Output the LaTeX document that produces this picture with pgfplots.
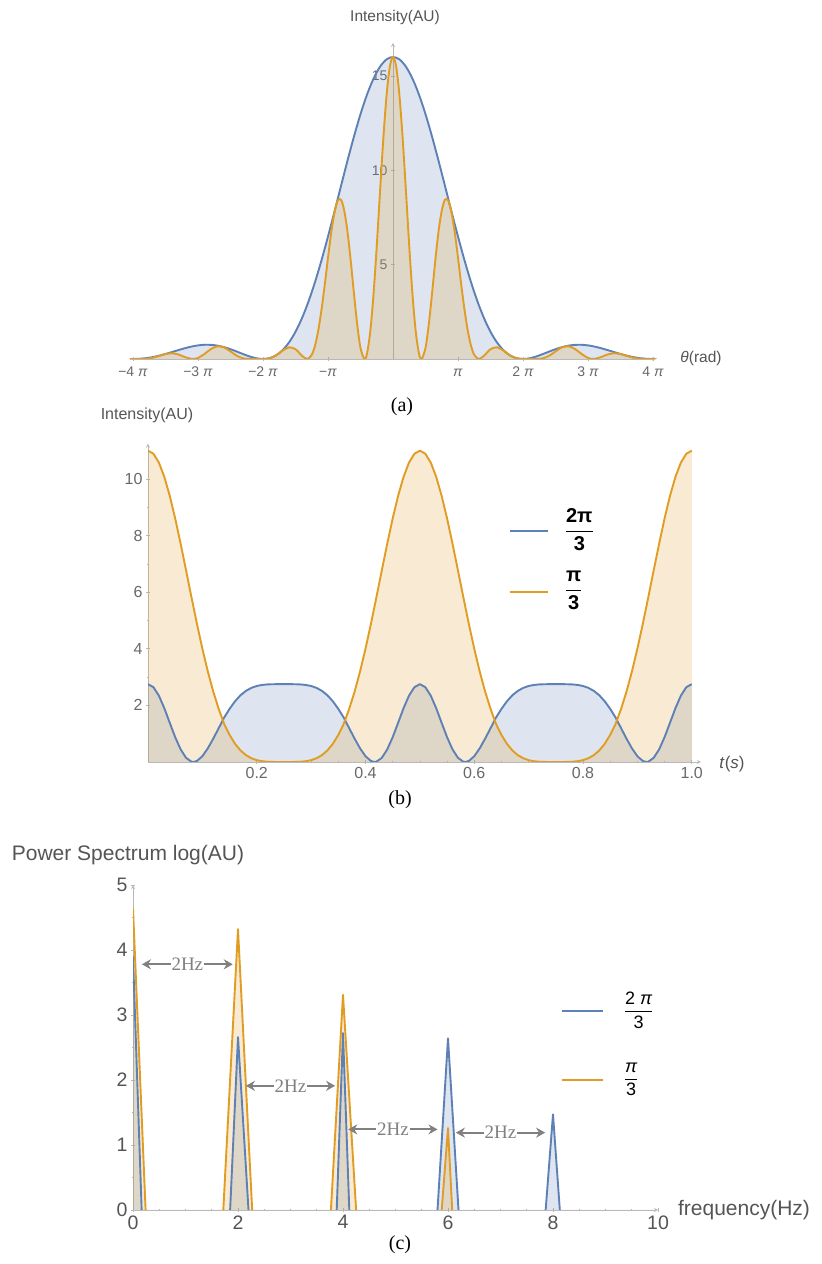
\documentclass[border=0pt]{standalone}
\usepackage{fontspec}
\setmainfont{Liberation Sans}
\newfontfamily\serif{Liberation Serif}
\usepackage{amsmath}
\usepackage{pgfplots}
\usepackage{pgfplotstable}
\pgfplotsset{compat=1.18}
\usetikzlibrary{arrows.meta}
\definecolor{mblue}{rgb}{0.368417,0.506779,0.709798}
\definecolor{morange}{rgb}{0.880722,0.611041,0.142051}
\definecolor{tickgray}{RGB}{105,105,105}
\definecolor{labgray}{RGB}{85,85,85}
\definecolor{axisgray}{RGB}{185,185,185}
\definecolor{arrgray}{RGB}{128,128,128}

\pgfplotsset{
  mstyle/.style={
    scale only axis,
    axis line style={axisgray, line width=0.8pt, -},
    tick style={axisgray, line width=0.6pt},
    tick align=inside,
    major tick length=4pt, minor tick length=2.5pt,
    ticklabel style={text=tickgray},
    /pgf/number format/assume math mode=true,
  },
  bline/.style={mblue, line width=1.9pt, line join=round},
  oline/.style={morange, line width=1.9pt, line join=round},
  bfill/.style={fill=mblue, fill opacity=0.2, draw=none},
  ofill/.style={fill=morange, fill opacity=0.2, draw=none},
}

\pgfplotstableread{
x y
-4.05 0
-4.0 0
-3.9 0.010
-3.8 0.043
-3.7 0.098
-3.6 0.173
-3.5 0.265
-3.4 0.367
-3.3 0.473
-3.2 0.573
-3.1 0.658
-3.0 0.721
-2.9 0.752
-2.8 0.748
-2.7 0.706
-2.6 0.628
-2.5 0.519
-2.4 0.389
-2.3 0.253
-2.2 0.128
-2.1 0.036
-2.0 0
-1.9 0.044
-1.8 0.191
-1.7 0.462
-1.6 0.875
-1.5 1.441
-1.4 2.165
-1.3 3.046
-1.2 4.073
-1.1 5.228
-1.0 6.485
-0.9 7.810
-0.8 9.165
-0.7 10.506
-0.6 11.789
-0.5 12.969
-0.4 14.002
-0.3 14.850
-0.2 15.480
-0.1 15.869
0 16
0.1 15.869
0.2 15.480
0.3 14.850
0.4 14.002
0.5 12.969
0.6 11.789
0.7 10.506
0.8 9.165
0.9 7.810
1.0 6.485
1.1 5.228
1.2 4.073
1.3 3.046
1.4 2.165
1.5 1.441
1.6 0.875
1.7 0.462
1.8 0.191
1.9 0.044
2.0 0
2.1 0.036
2.2 0.128
2.3 0.253
2.4 0.389
2.5 0.519
2.6 0.628
2.7 0.706
2.8 0.748
2.9 0.752
3.0 0.721
3.1 0.658
3.2 0.573
3.3 0.473
3.4 0.367
3.5 0.265
3.6 0.173
3.7 0.098
3.8 0.043
3.9 0.010
4.0 0
4.05 0
}\aB

\pgfplotstableread{
x y
-4.05 0
-4.0 0
-3.9 0.001
-3.8 0.013
-3.7 0.063
-3.6 0.159
-3.5 0.264
-3.4 0.304
-3.3 0.237
-3.2 0.099
-3.08 0
-3.0 0.057
-2.9 0.270
-2.8 0.529
-2.7 0.674
-2.6 0.615
-2.5 0.400
-2.4 0.167
-2.3 0.031
-2.2 0
-2.1 0.004
-2.0 0
-1.9 0.034
-1.8 0.187
-1.7 0.441
-1.6 0.619
-1.5 0.518
-1.4 0.172
-1.32 0
-1.25 0.219
-1.2 0.703
-1.15 1.510
-1.1 2.614
-1.05 3.935
-1.0 5.366
-0.95 6.704
-0.9 7.770
-0.85 8.389
-0.8 8.438
-0.75 7.858
-0.7 6.743
-0.65 5.198
-0.6 3.446
-0.55 1.815
-0.5 0.586
-0.44 0
-0.4 0.284
-0.35 1.446
-0.3 3.414
-0.25 5.980
-0.2 8.842
-0.15 11.617
-0.1 13.931
-0.05 15.464
0 16
0.05 15.464
0.1 13.931
0.15 11.617
0.2 8.842
0.25 5.980
0.3 3.414
0.35 1.446
0.4 0.284
0.44 0
0.5 0.586
0.55 1.815
0.6 3.446
0.65 5.198
0.7 6.743
0.75 7.858
0.8 8.438
0.85 8.389
0.9 7.770
0.95 6.704
1.0 5.366
1.05 3.935
1.1 2.614
1.15 1.510
1.2 0.703
1.25 0.219
1.32 0
1.4 0.172
1.5 0.518
1.6 0.619
1.7 0.441
1.8 0.187
1.9 0.034
2.0 0
2.1 0.004
2.2 0
2.3 0.031
2.4 0.167
2.5 0.400
2.6 0.615
2.7 0.674
2.8 0.529
2.9 0.270
3.0 0.057
3.08 0
3.2 0.099
3.3 0.237
3.4 0.304
3.5 0.264
3.6 0.159
3.7 0.063
3.8 0.013
3.9 0.001
4.0 0
4.05 0
}\aO

\pgfplotstableread{
x y
0 2.75
0.01 2.644
0.02 2.345
0.03 1.902
0.04 1.386
0.05 0.877
0.06 0.446
0.07 0.147
0.08 0.009
0.0833 0
0.09 0.035
0.10 0.204
0.11 0.482
0.12 0.825
0.13 1.194
0.14 1.568
0.15 1.876
0.16 2.143
0.17 2.356
0.18 2.511
0.19 2.618
0.20 2.685
0.21 2.723
0.22 2.741
0.23 2.748
0.24 2.75
0.25 2.75
0.26 2.75
0.27 2.748
0.28 2.741
0.29 2.723
0.30 2.685
0.31 2.618
0.32 2.511
0.33 2.356
0.34 2.143
0.35 1.876
0.36 1.568
0.37 1.194
0.38 0.825
0.39 0.482
0.40 0.204
0.41 0.035
0.4167 0
0.42 0.009
0.43 0.147
0.44 0.446
0.45 0.877
0.46 1.386
0.47 1.902
0.48 2.345
0.49 2.644
0.50 2.75
0.51 2.644
0.52 2.345
0.53 1.902
0.54 1.386
0.55 0.877
0.56 0.446
0.57 0.147
0.58 0.009
0.5833 0
0.59 0.035
0.60 0.204
0.61 0.482
0.62 0.825
0.63 1.194
0.64 1.568
0.65 1.876
0.66 2.143
0.67 2.356
0.68 2.511
0.69 2.618
0.70 2.685
0.71 2.723
0.72 2.741
0.73 2.748
0.74 2.75
0.75 2.75
0.76 2.75
0.77 2.748
0.78 2.741
0.79 2.723
0.80 2.685
0.81 2.618
0.82 2.511
0.83 2.356
0.84 2.143
0.85 1.876
0.86 1.568
0.87 1.194
0.88 0.825
0.89 0.482
0.90 0.204
0.91 0.035
0.9167 0
0.92 0.009
0.93 0.147
0.94 0.446
0.95 0.877
0.96 1.386
0.97 1.902
0.98 2.345
0.99 2.644
1.00 2.75
}\bB

\pgfplotstableread{
x y
0 11
0.01 10.893
0.02 10.579
0.03 10.074
0.04 9.405
0.05 8.605
0.06 7.714
0.07 6.771
0.08 5.815
0.09 4.882
0.10 4.002
0.11 3.199
0.12 2.487
0.13 1.876
0.14 1.347
0.15 0.957
0.16 0.645
0.17 0.410
0.18 0.244
0.19 0.134
0.20 0.065
0.21 0.027
0.22 0.009
0.23 0.002
0.24 0
0.25 0
0.26 0
0.27 0.002
0.28 0.009
0.29 0.027
0.30 0.065
0.31 0.134
0.32 0.244
0.33 0.410
0.34 0.645
0.35 0.957
0.36 1.347
0.37 1.876
0.38 2.487
0.39 3.199
0.40 4.002
0.41 4.882
0.42 5.815
0.43 6.771
0.44 7.714
0.45 8.605
0.46 9.405
0.47 10.074
0.48 10.579
0.49 10.893
0.50 11
0.51 10.893
0.52 10.579
0.53 10.074
0.54 9.405
0.55 8.605
0.56 7.714
0.57 6.771
0.58 5.815
0.59 4.882
0.60 4.002
0.61 3.199
0.62 2.487
0.63 1.876
0.64 1.347
0.65 0.957
0.66 0.645
0.67 0.410
0.68 0.244
0.69 0.134
0.70 0.065
0.71 0.027
0.72 0.009
0.73 0.002
0.74 0
0.75 0
0.76 0
0.77 0.002
0.78 0.009
0.79 0.027
0.80 0.065
0.81 0.134
0.82 0.244
0.83 0.410
0.84 0.645
0.85 0.957
0.86 1.347
0.87 1.876
0.88 2.487
0.89 3.199
0.90 4.002
0.91 4.882
0.92 5.815
0.93 6.771
0.94 7.714
0.95 8.605
0.96 9.405
0.97 10.074
0.98 10.579
0.99 10.893
1.00 11
}\bO

\pgfplotstableread{
x y
0 3.9
0.165 0
1 -1
1.85 0
2 2.66
2.2 0
3 -1
3.88 0
4 2.72
4.12 0
5 -1
5.8 0
6 2.64
6.2 0
7 -1
7.86 0
8 1.47
8.13 0
9 -1
10 -1
}\cB

\pgfplotstableread{
x y
0 4.64
0.24 0
1 -1
1.72 0
2 4.32
2.27 0
3 -1
3.77 0
4 3.31
4.25 0
5 -1
5.88 0
6 1.26
6.08 0
7 -1
10 -1
}\cO

\begin{document}
\begin{tikzpicture}[x=1pt,y=1pt]
\path[use as bounding box, fill=white] (0pt,0pt) rectangle (822pt,1264pt);

% ---------------- (a)
\begin{axis}[mstyle, at={(129.75pt,905pt)}, anchor=south west,
  width=526.5pt, height=316pt,
  xmin=-4.05, xmax=4.05, ymin=0, ymax=16.74,
  axis lines=middle,
  xtick={-4,-3,-2,-1,1,2,3,4},
  xticklabels={{−4 \textit{π}},{−3 \textit{π}},{−2 \textit{π}},{−\textit{π}},{\textit{π}},{2 \textit{π}},{3 \textit{π}},{4 \textit{π}}},
  xticklabel style={text height=10pt, text depth=2pt, yshift=-2pt},
  ytick={5,10,15},
  ticklabel style={font=\fontsize{14}{14}\selectfont},
]
\addplot[bfill, smooth, forget plot] table {\aB} \closedcycle;
\addplot[ofill, smooth, forget plot] table {\aO} \closedcycle;
\addplot[bline, smooth, forget plot] table {\aB};
\addplot[oline, smooth, forget plot] table {\aO};
\end{axis}

% ---------------- (b)
\begin{axis}[mstyle, at={(148pt,502pt)}, anchor=south west,
  width=553pt, height=318.4pt,
  xmin=0, xmax=1.017, ymin=0, ymax=11.25,
  axis lines=left,
  xtick={0.2,0.4,0.6,0.8,1.0},
  ytick={2,4,6,8,10},
  minor x tick num=3, minor y tick num=1,
  xticklabel style={/pgf/number format/.cd, fixed, fixed zerofill, precision=1},
  ticklabel style={font=\fontsize{16}{16}\selectfont},
  legend image code/.code={\draw[#1] (0pt,-8pt) -- (38pt,-8pt);},
  legend cell align=left,
  legend style={draw=none, fill=none, at={(axis cs:0.658,9.1)}, anchor=north west,
    font=\fontsize{20}{22}\selectfont\bfseries, row sep=29pt, column sep=14pt,
    nodes={inner sep=2pt}},
]
\addplot[bfill, forget plot] table {\bB} \closedcycle;
\addplot[ofill, forget plot] table {\bO} \closedcycle;
\addplot[bline, forget plot] table {\bB};
\addplot[oline, forget plot] table {\bO};
\addlegendimage{bline}
\addlegendentry{$\dfrac{\text{2π}}{\text{3}}$}
\addlegendimage{oline}
\addlegendentry{$\dfrac{\text{π}}{\text{3}}$}
\end{axis}

% ---------------- (c)
\begin{axis}[mstyle, at={(133pt,54pt)}, anchor=south west,
  width=525pt, height=325pt,
  xmin=0, xmax=10, ymin=0, ymax=5,
  axis lines=left,
  xtick={0,2,4,6,8,10},
  ytick={0,1,2,3,4,5},
  minor x tick num=3, minor y tick num=1,
  ticklabel style={font=\fontsize{19.5}{19.5}\selectfont, text=labgray},
  legend image code/.code={\draw[#1] (0pt,-6pt) -- (41pt,-6pt);},
  legend cell align=left,
  legend style={draw=none, fill=none, at={(axis cs:8.09,3.42)}, anchor=north west,
    font=\fontsize{18}{20}\selectfont, row sep=41pt, column sep=18pt,
    nodes={inner sep=2pt}},
]
\addplot[bfill, forget plot] table {\cB} \closedcycle;
\addplot[ofill, forget plot] table {\cO} \closedcycle;
\addplot[bline, forget plot] table {\cB};
\addplot[oline, forget plot] table {\cO};
\addlegendimage{bline}
\addlegendentry{$\dfrac{\text{2 \textit{π}}}{\text{3}}$}
\addlegendimage{oline}
\addlegendentry{$\dfrac{\text{\textit{π}}}{\text{3}}$}
\begin{scope}[arrgray, line width=2pt, {Stealth[length=9pt,width=10pt]}-{Stealth[length=9pt,width=10pt]}]
\draw (axis cs:0.17,3.78) -- (axis cs:1.9,3.78) node[midway, fill=white, inner sep=1pt, text=arrgray, font=\serif\fontsize{19}{19}\selectfont] {2Hz};
\draw (axis cs:2.15,1.91) -- (axis cs:3.85,1.91) node[midway, fill=white, inner sep=1pt, text=arrgray, font=\serif\fontsize{19}{19}\selectfont] {2Hz};
\draw (axis cs:4.1,1.24) -- (axis cs:5.8,1.24) node[midway, fill=white, inner sep=1pt, text=arrgray, font=\serif\fontsize{19}{19}\selectfont] {2Hz};
\draw (axis cs:6.15,1.19) -- (axis cs:7.85,1.19) node[midway, fill=white, inner sep=1pt, text=arrgray, font=\serif\fontsize{19}{19}\selectfont] {2Hz};
\end{scope}
\end{axis}

% ---------------- labels
\node[font=\fontsize{15.5}{16}\selectfont, text=labgray] at (395pt,1246pt) {Intensity(AU)};
\node[font=\fontsize{15.5}{16}\selectfont, text=labgray] at (701pt,906pt) {\textit{θ}(rad)};
\node[font=\serif\fontsize{20}{20}\selectfont] at (402pt,857pt) {(a)};

\node[font=\fontsize{16}{16}\selectfont, text=labgray] at (147pt,849pt) {Intensity(AU)};
\node[font=\fontsize{17}{17}\selectfont, text=labgray] at (732pt,500pt) {\textit{t}(\textit{s})};
\node[font=\serif\fontsize{20}{20}\selectfont] at (400pt,464pt) {(b)};

\node[font=\fontsize{21}{21}\selectfont, text=labgray] at (128pt,409pt) {Power Spectrum log(AU)};
\node[font=\fontsize{21}{21}\selectfont, text=labgray] at (744pt,54pt) {frequency(Hz)};
\node[font=\serif\fontsize{20}{20}\selectfont] at (400pt,19pt) {(c)};
\end{tikzpicture}
\end{document}
